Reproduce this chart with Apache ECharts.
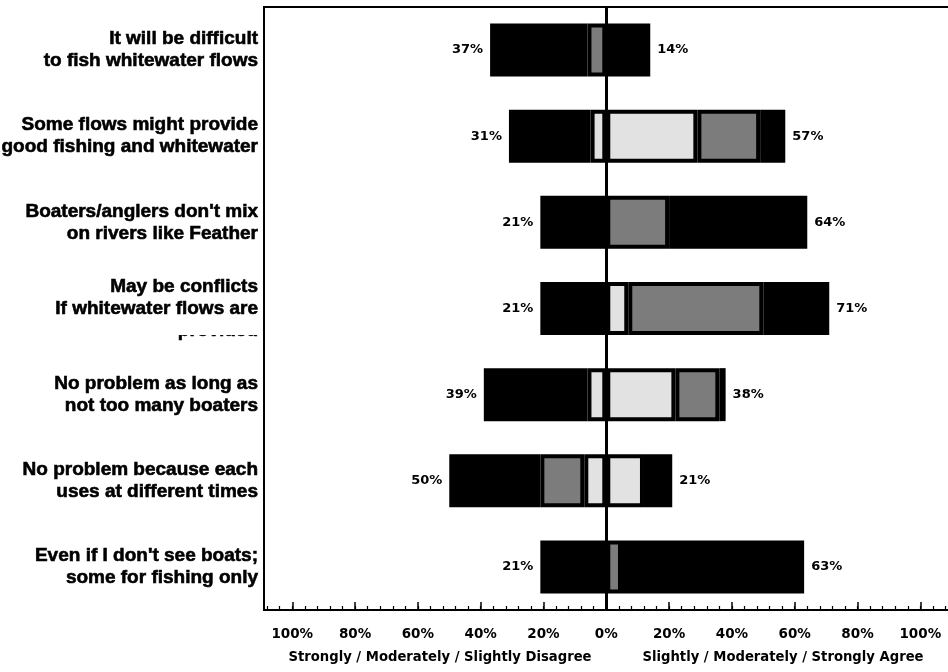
<!DOCTYPE html>
<html>
<head>
<meta charset="utf-8">
<script src="https://cdn.jsdelivr.net/npm/echarts@6/dist/echarts.min.js"></script>
<style>
  html, body { margin: 0; padding: 0; background: #fff; }
  #chart { width: 948px; height: 672px; }
</style>
</head>
<body>
<div id="chart"></div>
<script>
// Survey statements, top to bottom
const categories = [
  'It will be difficult\nto fish whitewater flows',
  'Some flows might provide\ngood fishing and whitewater',
  "Boaters/anglers don't mix\non rivers like Feather",
  'May be conflicts\nIf whitewater flows are\nprovided',
  'No problem as long as\nnot too many boaters',
  'No problem because each\nuses at different times',
  "Even if I don't see boats;\nsome for fishing only"
];

// Percent of respondents per answer
const stronglyDisagree   = [31, 26, 21, 21, 33, 29, 21];
const moderatelyDisagree = [6, 0, 0, 0, 0, 14, 0];
const slightlyDisagree   = [0, 5, 0, 0, 6, 7, 0];
const slightlyAgree      = [0, 29, 0, 7, 22, 12, 0];
const moderatelyAgree    = [0, 20, 20, 43, 14, 0, 5];
const stronglyAgree      = [14, 8, 44, 21, 2, 9, 58];

const majorTicks = [-100, -80, -60, -40, -20, 0, 20, 40, 60, 80, 100];
const sideTitles = ['Strongly / Moderately / Slightly Disagree', 'Slightly / Moderately / Strongly Agree'];

const disagreeTotal = categories.map((_, i) => stronglyDisagree[i] + moderatelyDisagree[i] + slightlyDisagree[i]);
const agreeTotal = categories.map((_, i) => slightlyAgree[i] + moderatelyAgree[i] + stronglyAgree[i]);

// minor tick marks every 4%
const minorTicks = [];
for (let v = -108; v <= 108; v += 4) minorTicks.push(v);

const SANS = '"Liberation Sans", Arial, Helvetica, sans-serif';
const WIDE = '"DejaVu Sans", Verdana, sans-serif';
const BLACK = '#000';
const LIGHT = '#e2e2e2';
const DARK = '#7c7c7c';

function totalLabel(totals, side) {
  return {
    show: true,
    position: side,
    distance: 7,
    formatter: p => totals[p.dataIndex] + '%',
    fontFamily: WIDE,
    fontSize: 13,
    fontWeight: 'bold',
    color: BLACK
  };
}

function segment(name, values, sign, color, label) {
  return {
    name: name,
    type: 'bar',
    stack: 'total',
    barWidth: 53,
    silent: true,
    emphasis: { disabled: true },
    data: values.map(v => (v === 0 ? null : sign * v)),
    itemStyle: { color: color, borderColor: BLACK, borderWidth: 4 },
    label: label || { show: false }
  };
}

const series = [
  // negative side stacks outward from zero
  segment('Slightly Disagree', slightlyDisagree, -1, LIGHT),
  segment('Moderately Disagree', moderatelyDisagree, -1, DARK),
  segment('Strongly Disagree', stronglyDisagree, -1, BLACK, totalLabel(disagreeTotal, 'left')),
  segment('Slightly Agree', slightlyAgree, 1, LIGHT),
  segment('Moderately Agree', moderatelyAgree, 1, DARK),
  segment('Strongly Agree', stronglyAgree, 1, BLACK, totalLabel(agreeTotal, 'right'))
];

// center reference line at 0%
series[series.length - 1].markLine = {
  silent: true,
  symbol: 'none',
  label: { show: false },
  lineStyle: { color: BLACK, width: 3, type: 'solid' },
  data: [{ xAxis: 0 }]
};

const chart = echarts.init(document.getElementById('chart'), null, { renderer: 'canvas' });

chart.setOption({
  animation: false,
  backgroundColor: '#fff',
  grid: {
    left: 264, top: 7, width: 694, height: 603,
    containLabel: false, outerBoundsMode: 'none',
    show: true, borderColor: BLACK, borderWidth: 2
  },
  xAxis: [
    {
      type: 'value', min: -109, max: 112, position: 'bottom',
      axisLine: { show: true, lineStyle: { color: BLACK, width: 2 } },
      axisTick: { show: true, inside: true, length: 8, customValues: majorTicks, lineStyle: { color: BLACK, width: 1.5 } },
      axisLabel: {
        customValues: majorTicks,
        formatter: v => Math.abs(v) + '%',
        fontFamily: WIDE, fontSize: 13.5, fontWeight: 'bold', color: BLACK, margin: 17
      },
      splitLine: { show: false }
    },
    {
      type: 'value', min: -109, max: 112, position: 'bottom',
      axisLine: { show: false },
      axisTick: { show: true, inside: true, length: 4, customValues: minorTicks, lineStyle: { color: BLACK, width: 1.2 } },
      axisLabel: { show: false },
      splitLine: { show: false }
    }
  ],
  yAxis: {
    type: 'category',
    data: categories,
    inverse: true,
    axisLine: { show: true, lineStyle: { color: BLACK, width: 2 } },
    axisTick: { show: false },
    axisLabel: {
      fontFamily: SANS, fontSize: 19, fontWeight: 'bold', color: BLACK,
      textBorderColor: BLACK, textBorderWidth: 0.6,
      lineHeight: 22, margin: 6, align: 'right'
    },
    splitLine: { show: false }
  },
  series: series,
  graphic: [
    {
      type: 'text', x: 440, y: 658, z: 10,
      style: { text: sideTitles[0], font: 'bold 13.2px ' + WIDE, fill: BLACK, align: 'center', verticalAlign: 'middle' }
    },
    {
      type: 'text', x: 783, y: 658, z: 10,
      style: { text: sideTitles[1], font: 'bold 13.2px ' + WIDE, fill: BLACK, align: 'center', verticalAlign: 'middle' }
    },
    {
      // the third line of the fourth statement is mostly hidden
      type: 'rect', z: 100,
      shape: { x: 0, y: 318, width: 262, height: 17 },
      style: { fill: '#fff' }
    }
  ]
});
</script>
</body>
</html>
